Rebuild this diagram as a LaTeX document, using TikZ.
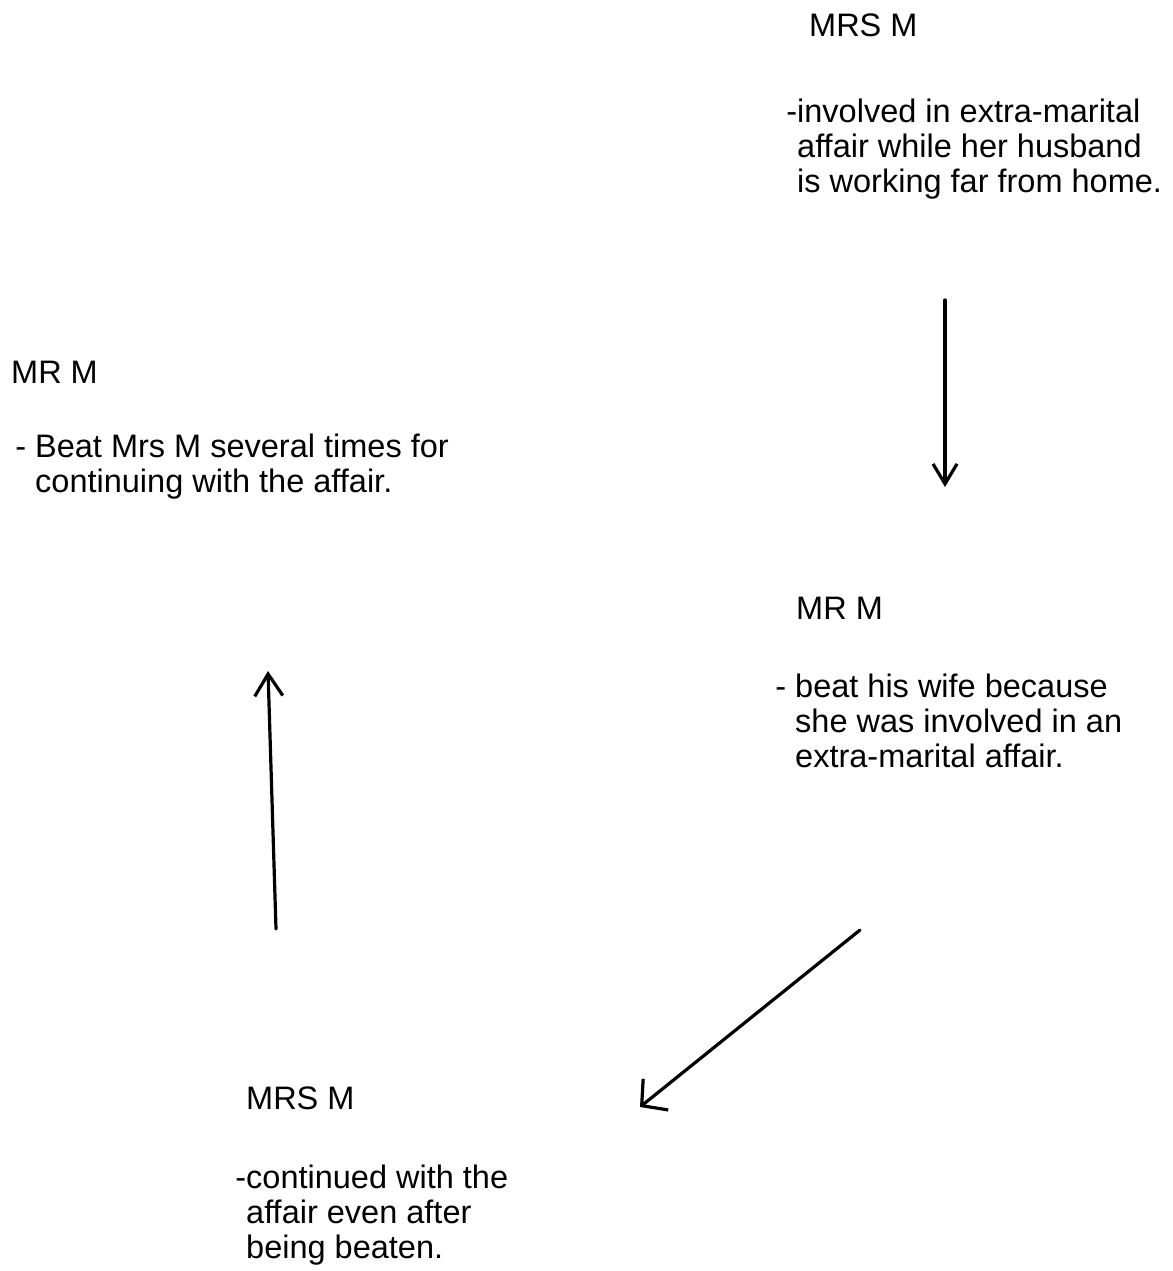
\documentclass[tikz,border=0pt]{standalone}
\usepackage{fontspec}
\setmainfont{Liberation Sans}
\usetikzlibrary{arrows.meta}
\begin{document}
\begin{tikzpicture}[x=1pt,y=-1pt,
  txt/.style={anchor=base west, inner sep=0pt, font=\fontsize{32.5}{35}\selectfont},
  hand/.style={line width=3.2pt, line cap=round, black},
  barb/.style={-{Straight Barb[length=#1,width=24pt,line width=3.2pt]}}
]
\fill[white] (0,0) rectangle (1172,1271);
\useasboundingbox (0,0) rectangle (1172,1271);

% top right: MRS M
\node[txt] (t1) at (809,37) {MRS M};
\node[txt] (b1) at (797,123) {\begin{tabular}[t]{@{}l@{}}\llap{-}involved in extra-marital\\ affair while her husband\\ is working far from home.\end{tabular}};

% right middle: MR M
\node[txt] (t2) at (796,619) {MR M};
\node[txt] (b2) at (795,697) {\begin{tabular}[t]{@{}l@{}}\llap{- }beat his wife because\\ she was involved in an\\ extra-marital affair.\end{tabular}};

% bottom: MRS M
\node[txt] (t3) at (246,1109) {MRS M};
\node[txt] (b3) at (246,1188) {\begin{tabular}[t]{@{}l@{}}\llap{-}continued with the\\ affair even after\\ being beaten.\end{tabular}};

% left: MR M
\node[txt] (t4) at (11,383) {MR M};
\node[txt] (b4) at (35,457) {\begin{tabular}[t]{@{}l@{}}\llap{- }Beat Mrs M several times for\\ continuing with the affair.\end{tabular}};

% arrow ends
\coordinate (a1s) at (945,300);
\coordinate (a1e) at (945,487);
\coordinate (a2s) at (860,930);
\coordinate (a2e) at (640,1107);
\coordinate (a3s) at (276,929);
\coordinate (a3e) at (268,671);

\draw[hand, barb=20pt] (a1s) -- (a1e);
\draw[hand, -{Straight Barb[length=18pt,width=40pt,line width=3.2pt]}] (a2s) -- (a2e);
\draw[hand, -{Straight Barb[length=22pt,width=28pt,line width=3.2pt]}] (a3s) -- (a3e);
\end{tikzpicture}
\end{document}
